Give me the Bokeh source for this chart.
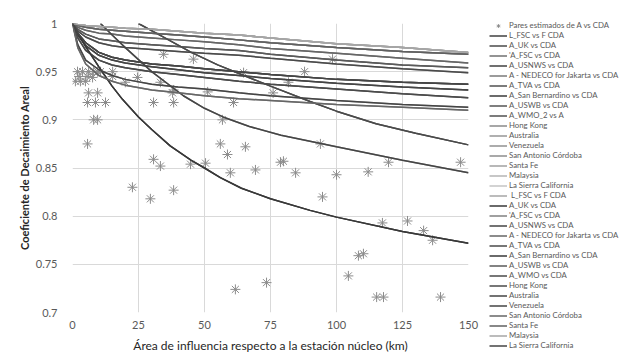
from bokeh.plotting import figure
from bokeh.models import Range1d, FixedTicker, Legend, LegendItem, Title
from bokeh.embed import file_html
from bokeh.resources import INLINE

# ---------------- data ----------------
X_TICKS = [0, 25, 50, 75, 100, 125, 150]
Y_TICKS = [0.7, 0.75, 0.8, 0.85, 0.9, 0.95, 1.0]
Y_TICK_LABELS = ["0.7", "0.75", "0.8", "0.85", "0.9", "0.95", "1"]
X_TITLE = "Área de influencia respecto a la estación núcleo (km)"
Y_TITLE = "Coeficiente de Decaimiento Areal"

# observed pairs (A vs CDA)
pares_x = [1.9, 3.8, 6.1, 8.0, 9.5, 10.6, 1.1, 3.0, 4.9, 7.6, 2.5, 5.5,
           15.2, 15.2, 20.0, 24.6, 33.3, 34.5, 37.9, 38.3, 45.8, 51.2,
           6.1, 9.5, 5.7, 8.7, 12.5, 30.7, 38.3, 61.0,
           8.0, 9.5, 56.8, 5.7, 56.0, 65.5, 58.7,
           30.7, 33.3, 44.7, 50.4, 59.8, 22.7, 29.5, 38.3, 61.7,
           69.3, 84.5, 100.0, 112.0, 94.7, 117.4, 126.9, 133.0, 136.4,
           108.3, 110.2, 104.5, 73.5, 115.2, 117.8, 139.4,
           78.8, 79.9, 93.9, 119.7, 147.0, 98.5, 87.9, 81.8, 76.0, 64.8]
pares_y = [0.950, 0.950, 0.950, 0.950, 0.950, 0.950, 0.940, 0.940, 0.940, 0.944, 0.945, 0.945,
           0.950, 0.945, 0.939, 0.944, 0.939, 0.968, 0.928, 0.931, 0.963, 0.929,
           0.928, 0.928, 0.918, 0.918, 0.918, 0.918, 0.918, 0.918,
           0.900, 0.900, 0.900, 0.875, 0.875, 0.872, 0.864,
           0.859, 0.852, 0.854, 0.855, 0.845, 0.830, 0.818, 0.827, 0.724,
           0.848, 0.845, 0.843, 0.846, 0.820, 0.793, 0.795, 0.785, 0.775,
           0.759, 0.761, 0.738, 0.731, 0.716, 0.716, 0.716,
           0.856, 0.857, 0.875, 0.856, 0.856, 0.963, 0.950, 0.939, 0.928, 0.949]

# curves (x in km, y = coefficient)
grid_x = [0, 2, 5, 10, 15, 20, 30, 40, 50, 63, 75, 100, 125, 150]
t1_y = [1, 0.999, 0.998, 0.997, 0.996, 0.995, 0.994, 0.992, 0.990, 0.988, 0.985, 0.979, 0.975, 0.970]
t2_y = [1, 0.998, 0.996, 0.994, 0.993, 0.992, 0.990, 0.988, 0.986, 0.983, 0.980, 0.975, 0.971, 0.968]
t3_y = [1, 0.996, 0.993, 0.990, 0.989, 0.987, 0.985, 0.983, 0.981, 0.978, 0.974, 0.969, 0.964, 0.959]
t4_y = [1, 0.994, 0.989, 0.984, 0.982, 0.980, 0.978, 0.976, 0.974, 0.972, 0.968, 0.962, 0.957, 0.954]
t5_y = [1, 0.992, 0.986, 0.980, 0.977, 0.975, 0.973, 0.971, 0.969, 0.967, 0.964, 0.958, 0.953, 0.949]
m1_y = [1, 0.990, 0.980, 0.970, 0.965, 0.962, 0.958, 0.956, 0.953, 0.950, 0.947, 0.942, 0.939, 0.937]
m2_y = [1, 0.988, 0.977, 0.967, 0.962, 0.959, 0.955, 0.952, 0.949, 0.946, 0.943, 0.938, 0.934, 0.931]
m3_y = [1, 0.985, 0.972, 0.962, 0.957, 0.954, 0.950, 0.947, 0.944, 0.940, 0.937, 0.932, 0.927, 0.923]
m4_y = [1, 0.978, 0.962, 0.952, 0.946, 0.942, 0.937, 0.934, 0.932, 0.928, 0.925, 0.920, 0.916, 0.913]
m5_y = [1, 0.975, 0.958, 0.946, 0.940, 0.936, 0.931, 0.928, 0.925, 0.922, 0.920, 0.916, 0.913, 0.910]

s1_x = [0, 2, 5, 10, 15, 19, 25, 30, 37, 45, 50, 56, 64, 75, 90, 100, 125, 150]
s1_y = [1, 0.990, 0.976, 0.955, 0.935, 0.921, 0.903, 0.890, 0.873, 0.858, 0.850, 0.840, 0.829,
        0.818, 0.806, 0.799, 0.784, 0.772]
s2_x = [10.6, 15, 20, 30, 42, 50, 57, 67, 79, 100, 125, 150]
s2_y = [1, 0.988, 0.975, 0.950, 0.925, 0.912, 0.903, 0.893, 0.884, 0.872, 0.858, 0.845]
s3_x = [25, 35, 45, 55, 64, 75, 90, 100, 115, 130, 150]
s3_y = [1, 0.985, 0.970, 0.957, 0.947, 0.935, 0.919, 0.909, 0.896, 0.886, 0.874]

names_1 = ["L_FSC vs F CDA", "A_UK vs CDA", "'A_FSC vs CDA", "A_USNWS vs CDA",
           "A - NEDECO for Jakarta vs CDA", "A_TVA vs CDA", "A_San Bernardino vs CDA",
           "A_USWB vs CDA", "A_WMO_2 vs A", "Hong Kong", "Australia", "Venezuela",
           "San Antonio Córdoba", "Santa Fe", "Malaysia", "La Sierra California"]
names_2 = [" L_FSC vs F CDA", "A_UK vs CDA", "'A_FSC vs CDA", "A_USNWS vs CDA",
           "A - NEDECO for Jakarta vs CDA", "A_TVA vs CDA", "A_San Bernardino vs CDA",
           "A_USWB vs CDA", "A_WMO vs CDA", "Hong Kong", "Australia", "Venezuela",
           "San Antonio Córdoba", "Santa Fe", "Malaysia", "La Sierra California"]

colors_1 = ["#404040", "#4a4a4a", "#707070", "#404040", "#7a7a7a", "#505050", "#3a3a3a",
            "#555555", "#505050", "#8a8a8a", "#969696", "#909090", "#8c8c8c", "#a0a0a0",
            "#b4b4b4", "#c4c4c4"]
colors_2 = ["#a6a6a6", "#383838", "#808080", "#454545", "#666666", "#4a4a4a", "#383838",
            "#5a5a5a", "#4a4a4a", "#4a4a4a", "#454545", "#454545", "#666666", "#606060",
            "#a6a6a6", "#454545"]

curves = [(grid_x, t1_y), (grid_x, m1_y), (grid_x, t2_y), (grid_x, m2_y), (grid_x, t3_y),
          (grid_x, m3_y), (s1_x, s1_y), (grid_x, t4_y), (s3_x, s3_y), (grid_x, t5_y),
          (grid_x, m4_y), (s2_x, s2_y), (grid_x, m5_y), (grid_x, t2_y), (grid_x, t1_y),
          (grid_x, m1_y)]

# ---------------- figure ----------------
FONT = "Lato"
p = figure(frame_width=396, frame_height=289, x_range=Range1d(0, 150), y_range=Range1d(0.7, 1.0),
           output_backend="svg", toolbar_location=None,
           min_border_left=72, min_border_top=23, min_border_bottom=44, min_border_right=151)
p.outline_line_color = None
p.background_fill_color = "white"

for ax in (p.xaxis[0], p.yaxis[0]):
    ax.axis_line_color = None
    ax.major_tick_line_color = None
    ax.minor_tick_line_color = None
    ax.major_label_text_font = FONT
    ax.major_label_text_font_size = "11px"
    ax.major_label_text_color = "#595959"

p.xaxis.ticker = FixedTicker(ticks=X_TICKS)
p.yaxis.ticker = FixedTicker(ticks=Y_TICKS)
p.yaxis.major_label_overrides = {t: l for t, l in zip(Y_TICKS, Y_TICK_LABELS)}
p.xaxis.major_label_standoff = 2
p.yaxis.major_label_standoff = 9

# axis titles (centred on the whole chart area, as in the original)
p.add_layout(Title(text=X_TITLE, align="center", offset=12, standoff=8,
                   text_font=FONT, text_font_size="12px", text_font_style="normal",
                   text_color="#262626"), "below")
p.add_layout(Title(text=Y_TITLE, align="center", offset=-12, standoff=3,
                   text_font=FONT, text_font_size="11px", text_font_style="bold",
                   text_color="#262626"), "left")

p.xgrid.ticker = FixedTicker(ticks=X_TICKS)
p.ygrid.ticker = FixedTicker(ticks=Y_TICKS)
for g in (p.xgrid[0], p.ygrid[0]):
    g.grid_line_color = "#d9d9d9"
    g.grid_line_width = 1

items = []
sc = p.scatter(pares_x, pares_y, marker="asterisk", size=10, line_color="#8c8c8c", line_width=1)
items.append(LegendItem(label="Pares estimados de A vs CDA", renderers=[sc]))

for names, colors in ((names_1, colors_1), (names_2, colors_2)):
    for name, color, (cx, cy) in zip(names, colors, curves):
        r = p.line(cx, cy, line_color=color, line_width=1.5)
        items.append(LegendItem(label=name, renderers=[r]))

legend = Legend(items=items, location=(21, -38), margin=0, padding=0,
                label_text_font=FONT, label_text_font_size="7.8px", label_text_color="#595959",
                glyph_width=18, glyph_height=9, label_height=9, spacing=0, label_standoff=2,
                border_line_color=None, background_fill_alpha=0)
p.add_layout(legend, "right")

open("out.html", "w").write(file_html(p, INLINE))
